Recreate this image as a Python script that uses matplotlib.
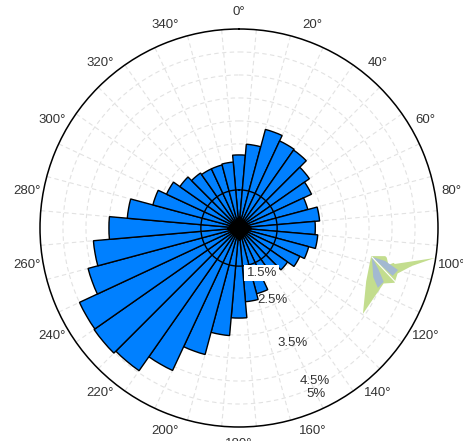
import numpy as np
import matplotlib
matplotlib.use("Agg")
import matplotlib.pyplot as plt

plt.rcParams["font.family"] = ["Liberation Sans", "DejaVu Sans"]

# percent of records per 10 degree sector, starting at north going clockwise
directions = np.arange(0, 360, 10)
freq = [2.26, 2.50, 2.89, 2.76, 2.74, 2.54, 2.41, 2.22, 2.43, 2.33, 2.39, 2.24,
        2.13, 1.96, 1.83, 1.87, 2.15, 2.28, 2.63, 3.02, 3.52, 4.09, 4.46, 4.52,
        4.50, 4.07, 3.85, 3.50, 3.11, 2.61, 2.41, 2.24, 2.13, 2.09, 2.09, 2.11]

r_start = 0.67
r_max = 5.0
r_grid = [1.5, 2, 2.5, 3, 3.5, 4, 4.5]
spoke_angles = np.arange(5, 360, 10)
angle_ticks = np.arange(0, 360, 20)

# small green/blue star near 100 degrees
green_theta = [102, 100.9, 103, 98.7, 102.4, 106, 109.4, 111, 118, 124.7, 112.7]
green_r = [3.61, 3.91, 4.15, 4.98, 4.52, 4.26, 4.26, 4.04, 3.97, 3.95, 3.67]
white_theta = [100.6, 99.9, 102.2, 103.9]
white_r = [3.93, 4.08, 4.16, 4.02]
blue1_theta = [102.3, 102.7, 104.8, 107.3]
blue1_r = [3.63, 3.93, 4.25, 4.17]
blue2_theta = [102.3, 106.4, 110.4, 113.3, 110.1]
blue2_r = [3.63, 3.83, 4.03, 3.96, 3.78]
white_line_theta = [102.3, 109.5]
white_line_r = [3.63, 4.33]

# label text, angle, radius
pct_labels = ["1.5%", "2.5%", "3.5%", "4.5%", "5%"]
pct_theta = [153, 155, 155, 153.6, 155]
pct_r = [1.76, 2.41, 3.43, 4.39, 4.65]

fig = plt.figure(figsize=(4.64, 4.41), dpi=100)
ax = fig.add_axes([(239 - 199) / 464, (441 - 427) / 441, 398 / 464, 398 / 441], polar=True)
ax.set_theta_zero_location("N")
ax.set_theta_direction(-1)
ax.set_ylim(r_start, r_max)

ax.fill(np.radians(green_theta), green_r, color="#c3dd8e", lw=0, zorder=2)
ax.fill(np.radians(white_theta), white_r, color="white", lw=0, zorder=2.05)
ax.fill(np.radians(blue1_theta), blue1_r, color="#a3b9d1", lw=0, zorder=2.1)
ax.fill(np.radians(blue2_theta), blue2_r, color="#a3b9d1", lw=0, zorder=2.1)
ax.plot(np.radians(white_line_theta), white_line_r, color="white", lw=0.8, zorder=2.2)

ax.bar(np.radians(directions), np.array(freq) - r_start, width=np.radians(10), bottom=r_start,
       color="#0080ff", edgecolor="black", linewidth=1.0, zorder=3)

# inner black ring over the bars
th = np.linspace(0, 2 * np.pi, 200)
ax.plot(th, np.full_like(th, 1.5), color="black", lw=1.0, zorder=4)
ax.plot(0, r_start, "D", color="black", ms=12, zorder=5)

ax.set_rticks(r_grid)
ax.set_yticklabels([])
ax.set_xticks(np.radians(angle_ticks))
ax.set_xticklabels([f"{a}°" for a in angle_ticks], fontsize=9.5, color="#333333")
ax.tick_params(axis="x", pad=5, length=0)
ax.xaxis.grid(False)
ax.yaxis.grid(True, color="#e2e2e2", ls=(0, (4, 3)), lw=0.8)
for a in spoke_angles:
    ax.plot([np.radians(a)] * 2, [r_start, r_max], color="#e2e2e2", ls=(0, (4, 3)), lw=0.8, zorder=1)
ax.spines["polar"].set_linewidth(1.1)

for name, t, r in zip(pct_labels, pct_theta, pct_r):
    box = dict(facecolor="white", edgecolor="none", pad=1.5) if name == "1.5%" else None
    ax.text(np.radians(t), r, name, fontsize=9.5, color="#333333", ha="center", va="center",
            bbox=box, zorder=6)

fig.savefig("out.png", dpi=100)
